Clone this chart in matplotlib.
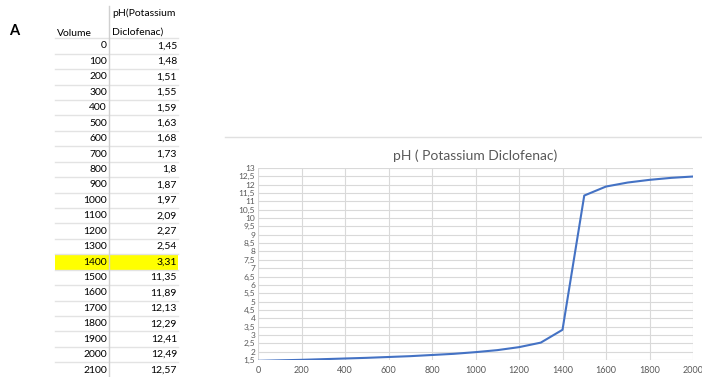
import matplotlib.pyplot as plt
from matplotlib.ticker import FuncFormatter

volume = [0, 100, 200, 300, 400, 500, 600, 700, 800, 900, 1000,
          1100, 1200, 1300, 1400, 1500, 1600, 1700, 1800, 1900, 2000, 2100]
ph = [1.45, 1.48, 1.51, 1.55, 1.59, 1.63, 1.68, 1.73, 1.8, 1.87, 1.97,
      2.09, 2.27, 2.54, 3.31, 11.35, 11.89, 12.13, 12.29, 12.41, 12.49, 12.57]
highlight = 1400

title = 'pH ( Potassium Diclofenac)'
yticks = [1.5 + 0.5 * i for i in range(24)]
xticks = list(range(0, 2001, 200))

W, H = 702, 377
fs = 7.5
grid = '#d9d9d9'

plt.rcParams['font.family'] = ['Lato', 'DejaVu Sans']

fig = plt.figure(figsize=(W / 100, H / 100), dpi=100)

# table part, drawn in pixel coordinates
tab = fig.add_axes([0, 0, 1, 1])
tab.set_xlim(0, W)
tab.set_ylim(H, 0)
tab.axis('off')

row0 = 46
dy = 15.43
tab.text(9, 31, 'A', fontsize=10.5, fontweight='bold', va='center', ha='left', color='black')
tab.text(57, 33, 'Volume', fontsize=fs, va='center', ha='left', color='black')
tab.text(112, 13, 'pH(Potassium', fontsize=fs, va='center', ha='left', color='black')
tab.text(112, 32, 'Diclofenac)', fontsize=fs, va='center', ha='left', color='black')
tab.plot([109, 109], [6, H], color='#d0d0d0', lw=1)

for i, (v, p) in enumerate(zip(volume, ph)):
    yc = row0 + i * dy
    if v == highlight:
        tab.fill_between([55, 178], yc - dy / 2, yc + dy / 2, color='#ffff00', lw=0, zorder=0)
    tab.plot([55, 178], [yc - dy / 2, yc - dy / 2], color='#e3e3e3', lw=1, zorder=1)
    tab.text(107, yc, str(v), fontsize=fs, va='center', ha='right', color='black')
    tab.text(177, yc, ('%g' % p).replace('.', ','), fontsize=fs, va='center', ha='right', color='black')

# chart frame top line
tab.plot([225, W], [137, 137], color='#e0e0e0', lw=1)

# chart
ax = fig.add_axes([258 / W, 1 - 360 / H, (693 - 258) / W, (360 - 168) / H])
ax.plot(volume, ph, color='#4472c4', lw=1.5, solid_capstyle='round', solid_joinstyle='round')
ax.set_xlim(0, 2000)
ax.set_ylim(1.5, 13)
ax.set_xticks(xticks)
ax.set_yticks(yticks)
ax.yaxis.set_major_formatter(FuncFormatter(lambda v, _: ('%g' % v).replace('.', ',')))
ax.tick_params(axis='x', length=0, labelsize=6.5, colors='#595959', pad=4)
ax.tick_params(axis='y', length=0, labelsize=6, colors='#595959', pad=2)
ax.grid(True, color=grid, lw=0.8)
ax.set_axisbelow(True)
for s in ax.spines.values():
    s.set_visible(False)
ax.set_title(title, fontsize=10, color='#595959', pad=6)

fig.savefig('out.png', dpi=100)
